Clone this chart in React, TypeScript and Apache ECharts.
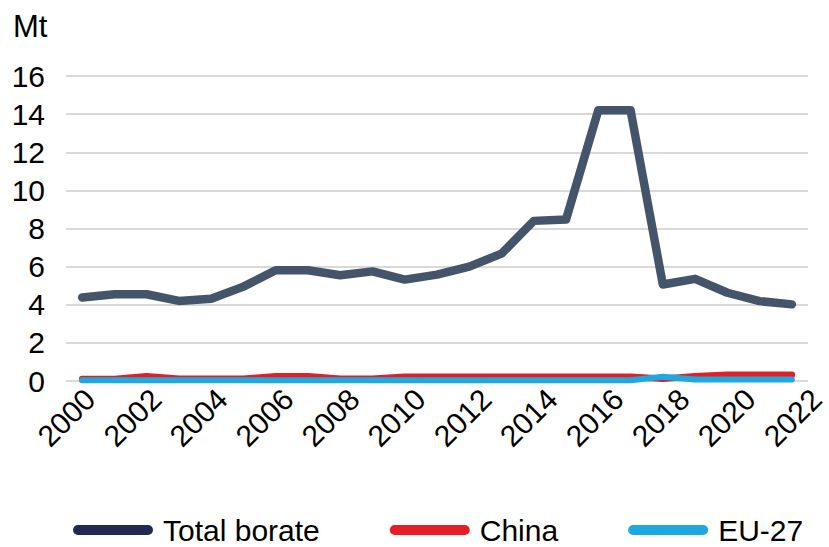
import { useEffect, useRef } from 'react';
import * as echarts from 'echarts';

const years = ['2000', '2001', '2002', '2003', '2004', '2005', '2006', '2007', '2008', '2009', '2010', '2011', '2012', '2013', '2014', '2015', '2016', '2017', '2018', '2019', '2020', '2021', '2022'];
const totalBorate = [4.38, 4.55, 4.55, 4.2, 4.31, 4.95, 5.81, 5.81, 5.55, 5.75, 5.32, 5.58, 6.0, 6.68, 8.4, 8.47, 14.2, 14.2, 5.06, 5.36, 4.63, 4.19, 4.02];
const china = [0.1, 0.1, 0.25, 0.12, 0.12, 0.12, 0.25, 0.25, 0.12, 0.12, 0.22, 0.22, 0.22, 0.22, 0.22, 0.22, 0.22, 0.22, 0.12, 0.25, 0.33, 0.33, 0.33];
const eu27 = [0.04, 0.04, 0.04, 0.04, 0.04, 0.04, 0.04, 0.04, 0.04, 0.04, 0.04, 0.04, 0.04, 0.04, 0.04, 0.04, 0.04, 0.04, 0.22, 0.08, 0.08, 0.08, 0.08];
const seriesNames = ['Total borate', 'China', 'EU-27'];
const lineColors = ['#44546a', '#e31e24', '#1fa8e0'];
const legendColors = ['#222a54', '#e31e24', '#1fa8e0'];

const FONT = "'Liberation Sans', Arial, Helvetica, sans-serif";
const STADIUM = 'path://M5,0 L75,0 A5,5 0 0 1 75,10 L5,10 A5,5 0 0 1 5,0 Z';

export default function App() {
  const ref = useRef<HTMLDivElement>(null);
  useEffect(() => {
    const chart = echarts.init(ref.current!, null, { renderer: 'svg' });
    const values = [totalBorate, china, eu27];
    const widths = [8.5, 6.5, 6];
    chart.setOption({
      animation: false,
      textStyle: { fontFamily: FONT },
      title: {
        text: 'Mt',
        left: 8,
        top: 6,
        textStyle: { fontSize: 31, fontWeight: 'normal', color: '#000', fontFamily: FONT },
      },
      grid: [
        { left: 66, right: 21, top: 76, bottom: 166 },
        { left: 90, right: 4, top: 76, bottom: 166 },
      ],
      xAxis: [
        {
          type: 'category',
          data: years,
          boundaryGap: true,
          gridIndex: 0,
          axisLine: { show: false },
          axisTick: { show: false },
          axisLabel: { show: false },
        },
        {
          type: 'category',
          data: years,
          boundaryGap: false,
          gridIndex: 1,
          axisLine: { show: false },
          axisTick: { show: false },
          splitLine: { show: false },
          axisLabel: { interval: 1, rotate: 45, fontSize: 30, color: '#000', margin: 13, fontFamily: FONT },
        },
      ],
      yAxis: [
        {
          type: 'value',
          min: 0,
          max: 16,
          interval: 2,
          gridIndex: 0,
          axisLine: { show: false },
          axisTick: { show: false },
          axisLabel: { fontSize: 30, color: '#000', margin: 21, fontFamily: FONT },
          splitLine: { lineStyle: { color: '#d9d9d9', width: 2 } },
        },
        { type: 'value', gridIndex: 1, min: 0, max: 16, show: false },
      ],
      legend: {
        left: 68,
        top: 510,
        itemWidth: 80,
        itemHeight: 10,
        itemGap: 70,
        icon: STADIUM,
        textStyle: { fontSize: 30, color: '#000', fontFamily: FONT, padding: [0, 0, 0, 5] },
        data: seriesNames.map((n, i) => ({ name: n, itemStyle: { color: legendColors[i] } })),
      },
      series: seriesNames.map((n, i) => ({
        name: n,
        type: 'line',
        xAxisIndex: 0,
        yAxisIndex: 0,
        data: values[i],
        symbol: 'none',
        lineStyle: { color: lineColors[i], width: widths[i], cap: 'round', join: 'round' },
        itemStyle: { color: lineColors[i] },
      })),
    });
    return () => chart.dispose();
  }, []);
  return <div ref={ref} style={{ position: 'absolute', left: 0, top: 0, width: 829, height: 547 }} />;
}
